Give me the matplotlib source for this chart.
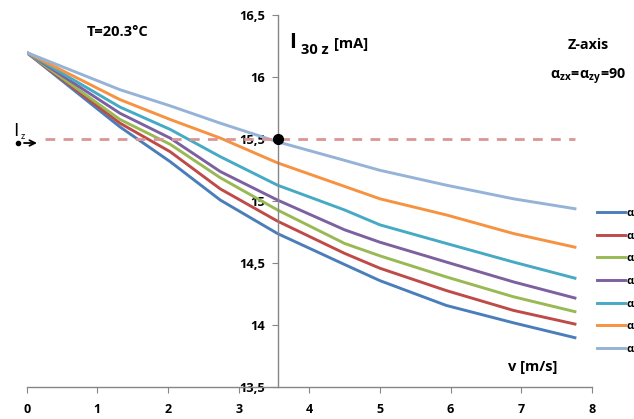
import numpy as np
import matplotlib
matplotlib.use("Agg")
import matplotlib.pyplot as plt
from matplotlib.lines import Line2D

plt.rcParams['font.family'] = ['Open Sans', 'DejaVu Sans']
plt.rcParams['mathtext.fontset'] = 'custom'
plt.rcParams['mathtext.rm'] = 'Open Sans'
plt.rcParams['mathtext.bf'] = 'Open Sans:bold'

# datos
v = [0, 1.32, 2.03, 2.74, 3.55, 4.5, 5.0, 5.94, 6.89, 7.76]
i_blue = [16.2, 15.60, 15.32, 15.01, 14.74, 14.49, 14.36, 14.16, 14.02, 13.90]
i_red = [16.2, 15.63, 15.40, 15.10, 14.84, 14.58, 14.46, 14.28, 14.12, 14.01]
i_green = [16.2, 15.66, 15.46, 15.19, 14.93, 14.66, 14.56, 14.39, 14.23, 14.11]
i_purple = [16.2, 15.71, 15.51, 15.24, 15.01, 14.77, 14.67, 14.51, 14.35, 14.22]
i_teal = [16.2, 15.76, 15.58, 15.36, 15.13, 14.93, 14.81, 14.66, 14.51, 14.38]
i_orange = [16.2, 15.82, 15.66, 15.51, 15.31, 15.12, 15.02, 14.89, 14.74, 14.63]
i_lblue = [16.2, 15.90, 15.77, 15.63, 15.48, 15.33, 15.25, 15.13, 15.02, 14.94]

series = [i_blue, i_red, i_green, i_purple, i_teal, i_orange, i_lblue]
colores = ['#4A7EBB', '#BE4B48', '#98B954', '#7D60A0', '#46AAC5', '#F69240', '#95B3D7']
etiquetas = ['α'] * 7

iz = 15.5          # nivel I_z
v_cruce = 3.55     # punto de cruce
dash_x = [0.26, 7.76]

xticks = [0, 1, 2, 3, 4, 5, 6, 7, 8]
yticks = [13.5, 14, 14.5, 15, 15.5, 16, 16.5]
ytick_lab = ['13,5', '14', '14,5', '15', '15,5', '16', '16,5']

W, H = 634, 419
fig = plt.figure(figsize=(W / 100, H / 100), dpi=100)
ax = fig.add_axes([26.7 / W, 1 - 387.3 / H, 565.2 / W, 372 / H])

def px(x, y):
    return x / W, 1 - y / H

lineas = []
for s, c, l in zip(series, colores, etiquetas):
    ln, = ax.plot(v, s, color=c, lw=2.1, label=l, solid_joinstyle='round')
    lineas.append(ln)

ax.plot(dash_x, [iz, iz], color='#D99694', lw=2, dashes=(3.5, 3))
ax.plot([v_cruce], [iz], 'o', color='black', ms=7, zorder=5)

ax.set_xlim(0, 8)
ax.set_ylim(13.5, 16.5)
ax.spines['top'].set_visible(False)
ax.spines['right'].set_visible(False)
ax.spines['left'].set_position(('data', v_cruce))
for sp in ['left', 'bottom']:
    ax.spines[sp].set_color('#868686')
    ax.spines[sp].set_linewidth(1)
ax.set_xticks(xticks)
ax.set_xticklabels([str(t) for t in xticks], fontweight='bold', fontsize=9)
ax.set_yticks(yticks)
ax.set_yticklabels(ytick_lab, fontweight='bold', fontsize=9.3)
ax.tick_params(axis='x', direction='out', length=4, color='#868686', pad=7)
ax.tick_params(axis='y', direction='out', length=4, color='#868686', pad=5)
ax.patch.set_alpha(0)

# textos
fig.text(*px(118, 32), 'T=20.3°C', fontsize=10.5, fontweight='bold', ha='center', va='center')
fig.text(*px(289, 48), 'I', fontsize=15, fontweight='bold', ha='left', va='baseline')
fig.text(*px(301, 54), '30 z', fontsize=10.5, fontweight='bold', ha='left', va='baseline')
fig.text(*px(334, 48), '[mA]', fontsize=10.5, fontweight='bold', ha='left', va='baseline')
fig.text(*px(588, 45), 'Z-axis', fontsize=10.3, fontweight='bold', ha='center', va='center')
fig.text(*px(588, 77), r'$\mathregular{\alpha_{zx}\!=\!\alpha_{zy}\!=\!90}$', fontsize=10.3,
         fontweight='bold', ha='center', va='center')
fig.text(*px(533, 367), 'v [m/s]', fontsize=10.5, fontweight='bold', ha='center', va='center')

# etiqueta I_z a la izquierda con punto y flecha
fig.text(*px(13, 136), 'I', fontsize=14, ha='left', va='baseline')
fig.text(*px(21, 139), 'z', fontsize=6.5, ha='left', va='baseline')
fig.add_artist(Line2D([18 / W], [1 - 143 / H], marker='o', ms=3, color='black'))
ax.annotate('', xy=(37, H - 143), xytext=(24, H - 143), xycoords='figure pixels',
            textcoords='figure pixels',
            arrowprops=dict(arrowstyle='->', lw=1.3, color='black',
                            shrinkA=0, shrinkB=0, mutation_scale=10))

fig.legend(handles=lineas, labels=etiquetas, loc='upper left',
           bbox_to_anchor=px(597, 208), frameon=False,
           handlelength=2.5, handletextpad=0.15, labelspacing=1.05,
           borderpad=0, borderaxespad=0, prop={'weight': 'bold', 'size': 8})

fig.savefig('out.png', dpi=100)
